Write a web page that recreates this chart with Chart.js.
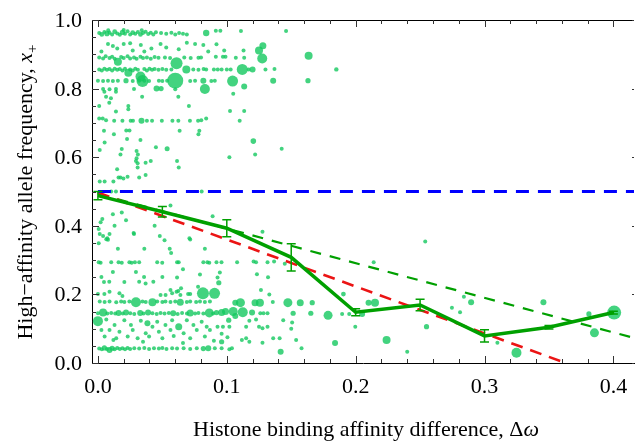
<!DOCTYPE html>
<html><head><meta charset="utf-8">
<script src="https://cdn.jsdelivr.net/npm/chart.js@4.4.1/dist/chart.umd.min.js"></script>
<style>
html,body{margin:0;padding:0;background:#fff;}
#wrap{position:relative;width:642px;height:443px;overflow:hidden;}
#c{position:absolute;left:0;top:0;}
.lbl{position:absolute;font-family:'Liberation Serif';font-size:22px;line-height:22px;color:#000;white-space:nowrap;}
</style>
</head><body>
<div id="wrap"><canvas id="c" width="642" height="443"></canvas><div id="labels"></div></div>
<script>
// ---- data (x = affinity difference, y = allele frequency, third value = marker weight) ----
const xTickValues = [0.0, 0.1, 0.2, 0.3, 0.4];
const yTickValues = [0.0, 0.2, 0.4, 0.6, 0.8, 1.0];
const xTitle = 'Histone binding affinity difference, \u0394';
const xTitleSymbol = '\u03c9';
const yTitle = 'High\u2212affinity allele frequency, ';
const yTitleSymbol = 'x';
const yTitleSub = '+';

const cloudTop = [
[0.001,0.962],[0.003,0.958,2.4],[0.005,0.965],[0.007,0.960,2.6],[0.009,0.963],[0.011,0.958],[0.013,0.966,2.4],[0.015,0.961],[0.017,0.957],[0.019,0.964,2.6],[0.021,0.960],[0.023,0.967],[0.025,0.958],[0.027,0.963,2.4],[0.029,0.960],[0.031,0.965],[0.033,0.958,2.4],[0.035,0.962],[0.037,0.966],[0.039,0.959],[0.041,0.963],[0.043,0.958],[0.045,0.964],[0.008,0.970],[0.020,0.971],[0.034,0.970],
[0.049,0.962],[0.053,0.960],[0.057,0.963],[0.060,0.958],[0.063,0.962],[0.066,0.960],[0.069,0.958],[0.084,0.962,3.2],[0.0915,0.969],[0.095,0.969],[0.111,0.968],[0.146,0.968],
[0.0027,0.908],[0.0078,0.930],[0.0116,0.924],[0.015,0.917],[0.020,0.930],[0.025,0.932],[0.027,0.911],[0.0333,0.927],[0.036,0.908],[0.0415,0.917],[0.0486,0.930],[0.053,0.920],[0.0627,0.915],[0.069,0.934],[0.0754,0.930],[0.0818,0.927],[0.0856,0.908],[0.092,0.929],[0.098,0.911],[0.113,0.911],[0.128,0.925,3.5],[0.125,0.911,4],[0.1275,0.888,5],[0.1635,0.896,4],
[0.001,0.891],[0.004,0.888],[0.006,0.894],[0.009,0.889],[0.011,0.893],[0.013,0.887],[0.0155,0.878,4],[0.018,0.892],[0.020,0.889],[0.023,0.894],[0.025,0.888],[0.028,0.891],[0.030,0.887],[0.033,0.893],[0.035,0.889],[0.038,0.891],[0.041,0.887],[0.044,0.892],[0.047,0.890],[0.052,0.891],[0.056,0.889],[0.061,0.874,6],[0.067,0.891],[0.072,0.889],[0.078,0.890],[0.080,0.891],[0.0915,0.893],[0.097,0.893],[0.099,0.893],[0.107,0.890],[0.1135,0.890],
[0.001,0.856],[0.003,0.853],[0.005,0.858],[0.007,0.855],[0.009,0.857],[0.011,0.853],[0.013,0.858],[0.015,0.855],[0.017,0.857],[0.019,0.853],[0.021,0.858],[0.0236,0.846,4],[0.025,0.856],[0.027,0.853],[0.029,0.858],[0.031,0.855],[0.033,0.835,5],[0.036,0.857],[0.038,0.853],[0.040,0.858],[0.042,0.855],[0.044,0.857],[0.047,0.855],[0.050,0.857],[0.053,0.855],[0.057,0.856],[0.0686,0.856,4],[0.074,0.856],[0.078,0.855],[0.082,0.857],[0.084,0.856],[0.090,0.856],[0.093,0.856],[0.096,0.856],[0.100,0.856],[0.103,0.856],[0.112,0.856,5.5],[0.117,0.856],[0.120,0.856,3],[0.130,0.856],[0.137,0.857],[0.185,0.856,2.2],
[0.000,0.823],[0.004,0.822],[0.0078,0.823],[0.0116,0.822],[0.0155,0.823],[0.0218,0.823,2.6],[0.027,0.822],[0.032,0.823],[0.0346,0.822,6],[0.036,0.823],[0.0397,0.822],[0.0473,0.823],[0.050,0.822],[0.0537,0.823],[0.060,0.823,8],[0.0716,0.822],[0.0754,0.823],[0.0818,0.823,3],[0.088,0.822],[0.0907,0.823],[0.1045,0.822,5.5],[0.136,0.823,3],[0.163,0.823,2.6],
[0.004,0.799],[0.009,0.798],[0.014,0.799],[0.028,0.799],[0.0455,0.800,3],[0.049,0.800,2.6],[0.060,0.798],[0.083,0.799,5],[0.1135,0.806,3],
[0.005,0.791],[0.014,0.791],[0.0063,0.776],[0.0101,0.772],[0.0343,0.776],[0.0624,0.776],[0.105,0.785],[0.001,0.749],[0.0088,0.759],[0.0236,0.749],[0.0236,0.740],[0.014,0.733],[0.0706,0.749],[0.1025,0.735],[0.1135,0.735],
[0.001,0.713],[0.0037,0.713],[0.0063,0.708],[0.0126,0.706],[0.019,0.706],[0.0254,0.706],[0.0272,0.706],[0.0338,0.706,3],[0.038,0.706],[0.042,0.706],[0.0496,0.706],[0.0578,0.706],[0.0624,0.706],[0.0714,0.706],[0.0777,0.706],[0.0802,0.708],[0.084,0.713],[0.110,0.706],
[0.0047,0.677],[0.0124,0.667],[0.022,0.678],[0.0245,0.678],[0.0226,0.653],[0.0052,0.643],[0.033,0.650],[0.0634,0.677],[0.0787,0.677],[0.078,0.667],[0.1206,0.647,2.8],[0.1426,0.625],[0.0014,0.621],[0.0185,0.624],[0.0175,0.608],[0.030,0.618],[0.031,0.608],[0.030,0.597],[0.045,0.629],[0.0537,0.625,2.5],[0.041,0.589],[0.037,0.584],[0.0295,0.589],[0.0308,0.582],[0.0308,0.570],[0.0614,0.589],[0.0627,0.570],[0.102,0.600],[0.122,0.608],[0.0149,0.565],[0.016,0.541],[0.0175,0.541],[0.0198,0.538],[0.023,0.543],[0.032,0.541],[0.037,0.548],[0.012,0.529],[0.0014,0.529],[0.0052,0.529],[0.0805,0.500],[0.0103,0.500],[0.014,0.500]
];

const cloudMid = [
[0.0563,0.459],[0.089,0.428],[0.1277,0.383],[0.0116,0.434],[0.0185,0.439],[0.0034,0.420],[0.0021,0.410],[0.0218,0.416],[0.0129,0.400],[0.044,0.400],[0.0006,0.391],[0.009,0.376],[0.028,0.376],[0.0014,0.376],[0.036,0.333],[0.048,0.370],[0.0517,0.358],[0.0557,0.333],[0.0568,0.321],[0.0716,0.360],[0.083,0.333],[0.0065,0.361],[0.0078,0.359],[0.0006,0.349],[0.0155,0.333],[0.066,0.273],[0.254,0.354],[0.004,0.370],[0.0073,0.364],[0.0277,0.379],[0.071,0.364],
[0.0006,0.294],[0.0021,0.292],[0.0103,0.294],[0.016,0.294],[0.0185,0.292],[0.0244,0.294],[0.0262,0.292],[0.0287,0.294],[0.032,0.294],[0.046,0.294],[0.0499,0.292],[0.0614,0.294],[0.0627,0.294],[0.0818,0.294],[0.0849,0.294],[0.0864,0.292],[0.092,0.294],[0.0959,0.294],[0.108,0.294],[0.1208,0.296],[0.1227,0.294],[0.1316,0.294],[0.1367,0.296],[0.214,0.294],
[0.0946,0.264],[0.0928,0.249],[0.0938,0.234,2.6],[0.1234,0.259],[0.132,0.250],[0.145,0.289],[0.1265,0.213],[0.133,0.200],
[0.0027,0.251],[0.0047,0.236],[0.0116,0.265],[0.0205,0.236],[0.0295,0.265],[0.0358,0.251],[0.050,0.251],[0.0614,0.249],[0.0792,0.258],[0.0088,0.237],[0.032,0.237],[0.037,0.232],[0.043,0.237],[0.0624,0.210],[0.0645,0.218],[0.0777,0.222],
[0.000,0.201],[0.005,0.201],[0.009,0.208],[0.0167,0.203],[0.019,0.195],[0.0486,0.198],[0.0525,0.198],[0.0563,0.213],[0.0576,0.203],[0.061,0.208],[0.064,0.198],[0.070,0.201],[0.0716,0.201],
[0.0815,0.203,6],[0.0905,0.203,5.5],[0.1905,0.201,2.4],[0.284,0.193]
];

const cloudLow = [
[0.0014,0.179],[0.0052,0.178],[0.009,0.179],[0.0142,0.177],[0.018,0.179],[0.0205,0.178],[0.0244,0.179],[0.0295,0.177,5],[0.0346,0.179],[0.0371,0.178],[0.0423,0.177,4],[0.046,0.179],[0.050,0.178],[0.0524,0.179],[0.0563,0.178],[0.060,0.179],[0.0639,0.177,3.5],[0.069,0.178],[0.0716,0.179],[0.0762,0.178],[0.0792,0.179],[0.0830,0.178],[0.0869,0.179],[0.1066,0.176,3],[0.1106,0.176,4.5],[0.1219,0.176,3.5],[0.1257,0.176,4],[0.1357,0.178],[0.1474,0.176,4.5],[0.157,0.176,3.5],[0.1663,0.176,2.6],[0.21,0.176,3],[0.215,0.176,4],[0.2747,0.161],[0.2896,0.177,3],[0.3457,0.177,3],
[0.000,0.145],[0.004,0.147,4],[0.0073,0.144],[0.0103,0.146],[0.0134,0.144],[0.016,0.146,3],[0.0193,0.144],[0.0218,0.147,3],[0.0251,0.145],[0.0282,0.143],[0.0328,0.146,3],[0.0354,0.144],[0.0389,0.147,3],[0.0423,0.145],[0.0456,0.143],[0.0486,0.146],[0.0517,0.144],[0.055,0.146],[0.0584,0.145,3],[0.0619,0.143],[0.0653,0.146],[0.0691,0.144],[0.0716,0.146,3.5],[0.0754,0.144],[0.078,0.146],[0.0818,0.144],[0.0864,0.146,4.5],[0.0894,0.144],
[0.092,0.147,2.6],[0.096,0.147,3.5],[0.099,0.150,3.5],[0.105,0.150,4.5],[0.1066,0.137,3],[0.1124,0.148,5],[0.1196,0.147,3],[0.126,0.145],[0.1285,0.145],[0.1316,0.145],[0.1515,0.145,2.6],[0.1652,0.145,2.6],[0.1786,0.139,4.5],[0.1895,0.143],[0.195,0.143],[0.205,0.143,3],[0.281,0.148],[0.381,0.143,2.6],[0.4006,0.147,7],
[0.000,0.122,5],[0.0065,0.127],[0.0129,0.111],[0.0205,0.125],[0.0256,0.111],[0.0333,0.123],[0.0384,0.116,3],[0.0423,0.106],[0.046,0.120],[0.0524,0.111],[0.0576,0.125],[0.0627,0.106,3.5],[0.069,0.125],[0.0741,0.111],[0.0805,0.120],[0.0844,0.106],
[0.0027,0.096],[0.009,0.096],[0.0167,0.091],[0.027,0.096],[0.0371,0.087],[0.0473,0.091],[0.0563,0.096],[0.0665,0.087],[0.0767,0.096],[0.0869,0.096],
[0.0052,0.077],[0.0142,0.072],[0.0231,0.077],[0.0308,0.072],[0.0397,0.077],[0.050,0.072],[0.0588,0.079],[0.0716,0.072],[0.083,0.077],
[0.012,0.067],[0.035,0.062],[0.066,0.058],[0.090,0.065],
[0.1015,0.125,2.6],[0.102,0.106],[0.097,0.106],[0.0928,0.106],[0.1175,0.123],[0.1227,0.127],[0.125,0.106],[0.1277,0.101],[0.1316,0.106],[0.115,0.106],[0.1438,0.125],[0.1507,0.118],[0.150,0.100],[0.1997,0.106],[0.255,0.106,2.6],
[0.096,0.085],[0.1005,0.075],[0.096,0.062,2.6],[0.1117,0.067],[0.115,0.072],[0.1175,0.062],[0.1277,0.059],[0.136,0.072],[0.141,0.072],[0.1538,0.067],[0.184,0.058,3],[0.224,0.067,4],[0.3853,0.088,4.5],[0.31,0.059],
[0.001,0.042],[0.003,0.040],[0.005,0.044,2.6],[0.007,0.041],[0.009,0.038,3],[0.011,0.043,2.6],[0.013,0.040],[0.015,0.044],[0.017,0.041],[0.019,0.043],[0.021,0.040],[0.023,0.044],[0.025,0.041],[0.0282,0.043],[0.032,0.042],[0.036,0.044],[0.0397,0.041],[0.0435,0.043],[0.0473,0.042],[0.050,0.044],[0.0532,0.041],[0.0576,0.043],[0.0614,0.042],[0.0665,0.043],[0.0716,0.041],[0.0767,0.043],[0.0818,0.042,2.6],[0.0856,0.043,3],[0.0907,0.043],[0.096,0.043],[0.102,0.040],[0.104,0.043],[0.1418,0.033,3],[0.158,0.043],[0.24,0.033],[0.3248,0.030,5]
];

const meanX   = [0.00, 0.05, 0.10, 0.15, 0.20, 0.25, 0.30, 0.35, 0.40];
const meanY   = [0.488, 0.441, 0.393, 0.308, 0.148, 0.169, 0.079, 0.104, 0.147];
const meanErr = [0.012, 0.015, 0.025, 0.040, 0.010, 0.017, 0.018, 0.005, 0.004];

const redFitX = [0.0, 0.363];   const redFitY = [0.497, 0.0];
const greenFitX = [0.0, 0.416]; const greenFitY = [0.493, 0.073];
const halfX = [0.0, 0.416];     const halfY = [0.5, 0.5];

// ---- chart ----
const pts = a => a.map(p => ({x: p[0], y: p[1], r: p.length > 2 ? p[2] : 2.0}));
const xy = (xs, ys) => xs.map((x, i) => ({x, y: ys[i]}));
const allCloud = pts(cloudTop).concat(pts(cloudMid), pts(cloudLow));
const GREEN = 'rgb(0,160,0)';

const decor = {
  id: 'decor',
  afterDatasetsDraw(chart) {
    const {ctx, chartArea: ca, scales: {x, y}} = chart;
    ctx.save();
    ctx.strokeStyle = GREEN; ctx.lineWidth = 1.5;
    meanX.forEach((mx, i) => {
      const px = x.getPixelForValue(mx);
      const y1 = y.getPixelForValue(meanY[i] - meanErr[i]);
      const y2 = y.getPixelForValue(meanY[i] + meanErr[i]);
      ctx.beginPath();
      ctx.moveTo(px, y1); ctx.lineTo(px, y2);
      ctx.moveTo(px - 4.5, y1); ctx.lineTo(px + 4.5, y1);
      ctx.moveTo(px - 4.5, y2); ctx.lineTo(px + 4.5, y2);
      ctx.stroke();
    });
    ctx.strokeStyle = '#000'; ctx.lineWidth = 1;
    ctx.beginPath(); ctx.moveTo(ca.left, ca.top + 0.5); ctx.lineTo(ca.right, ca.top + 0.5); ctx.stroke();
    ctx.strokeStyle = '#333';
    for (let k = 0; k <= 20; k++) {
      const major = k % 5 === 0;
      const px = Math.round(x.getPixelForValue(k * 0.02)) + 0.5;
      const L = major ? 7 : 4;
      ctx.beginPath();
      ctx.moveTo(px, ca.bottom); ctx.lineTo(px, ca.bottom - L);
      ctx.moveTo(px, ca.top); ctx.lineTo(px, ca.top + L);
      ctx.stroke();
    }
    for (let k = 0; k <= 20; k++) {
      const major = k % 4 === 0;
      const py = Math.round(y.getPixelForValue(k * 0.05)) + 0.5;
      const L = major ? 7 : 4;
      ctx.beginPath();
      ctx.moveTo(ca.left, py); ctx.lineTo(ca.left + L, py);
      if (major) { ctx.moveTo(ca.right, py); ctx.lineTo(ca.right - 2, py); }
      ctx.stroke();
    }
    ctx.restore();
  }
};

const chart = new Chart(document.getElementById('c'), {
  data: {
    datasets: [
      { type: 'line', data: xy(meanX, meanY), borderColor: GREEN, borderWidth: 3.5, pointRadius: 0, order: 1 },
      { type: 'line', data: xy(halfX, halfY), borderColor: 'rgb(0,0,255)', borderWidth: 3, borderDash: [13, 9], pointRadius: 0, order: 2 },
      { type: 'line', data: xy(redFitX, redFitY), borderColor: 'rgb(235,20,20)', borderWidth: 2.6, borderDash: [12, 8], pointRadius: 0, order: 3 },
      { type: 'line', data: xy(greenFitX, greenFitY), borderColor: GREEN, borderWidth: 2.2, borderDash: [11, 9], pointRadius: 0, order: 4 },
      { type: 'bubble', data: allCloud, backgroundColor: 'rgba(20,200,95,0.80)', borderWidth: 0, order: 10 }
    ]
  },
  options: {
    responsive: false, animation: false, devicePixelRatio: 1,
    layout: { padding: { top: 20, right: 0, left: 0, bottom: 0 } },
    plugins: { legend: { display: false }, tooltip: { enabled: false } },
    scales: {
      x: {
        type: 'linear', min: -0.0046, max: 0.416,
        afterFit: s => { s.height = 80; },
        grid: { display: false, drawTicks: false },
        border: { display: true, color: '#000', width: 1 },
        ticks: { display: false }
      },
      y: {
        type: 'linear', min: 0, max: 1,
        afterFit: s => { s.width = 92; },
        grid: { display: false, drawTicks: false },
        border: { display: true, color: '#000', width: 1 },
        ticks: { display: false }
      }
    }
  },
  plugins: [decor]
});

// ---- text labels as real DOM text, placed with the chart's own scales ----
(function placeLabels() {
  const layer = document.getElementById('labels');
  const xs = chart.scales.x, ys = chart.scales.y, ca = chart.chartArea;
  const mk = (html, css) => {
    const d = document.createElement('div');
    d.className = 'lbl';
    d.innerHTML = html;
    Object.assign(d.style, css);
    layer.appendChild(d);
    return d;
  };
  xTickValues.forEach(v => mk(v.toFixed(1), {
    left: xs.getPixelForValue(v) + 'px', top: '375px', transform: 'translateX(-50%)'
  }));
  yTickValues.forEach(v => mk(v.toFixed(1), {
    right: (642 - 82) + 'px', top: (ys.getPixelForValue(v) - 11) + 'px'
  }));
  mk(xTitle + '<i>' + xTitleSymbol + '</i>', {
    left: ((ca.left + ca.right) / 2 + 3) + 'px', top: '418px', transform: 'translateX(-50%)'
  });
  mk(yTitle + '<i>' + yTitleSymbol + '</i><span style="font-size:15px;position:relative;top:5px">' + yTitleSub + '</span>', {
    left: '25.6px', top: ((ca.top + ca.bottom) / 2) + 'px',
    transform: 'translate(-50%,-50%) rotate(-90deg)'
  });
})();
</script>
</body></html>
